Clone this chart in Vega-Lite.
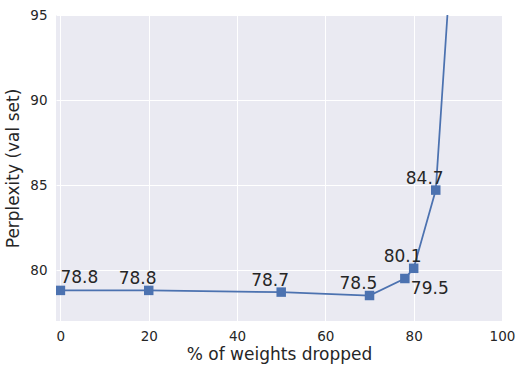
{
  "$schema": "https://vega.github.io/schema/vega-lite/v6.json",
  "width": 446,
  "height": 306,
  "autosize": {"type": "none"},
  "padding": {"left": 56, "top": 15, "right": 20, "bottom": 51},
  "background": "white",
  "config": {
    "view": {"fill": "#EAEAF2", "stroke": null},
    "font": "DejaVu Sans",
    "axis": {
      "grid": true,
      "gridColor": "white",
      "gridWidth": 1,
      "domain": false,
      "ticks": false,
      "labelFontSize": 13.5,
      "labelColor": "#262626",
      "labelFlush": false,
      "labelOverlap": false,
      "titleFontSize": 17,
      "titleFontWeight": "normal",
      "titleColor": "#262626"
    }
  },
  "data": {
    "values": [
      {"x": 0, "y": 78.8},
      {"x": 20, "y": 78.8},
      {"x": 50, "y": 78.7},
      {"x": 70, "y": 78.5},
      {"x": 78, "y": 79.5},
      {"x": 80, "y": 80.1},
      {"x": 85, "y": 84.7},
      {"x": 90, "y": 104.2}
    ]
  },
  "encoding": {
    "x": {
      "field": "x",
      "type": "quantitative",
      "scale": {"domain": [-1, 100], "nice": false, "zero": false},
      "axis": {"title": "% of weights dropped", "values": [0, 20, 40, 60, 80, 100], "labelPadding": 8, "titlePadding": 4}
    },
    "y": {
      "field": "y",
      "type": "quantitative",
      "scale": {"domain": [77, 95], "nice": false, "zero": false},
      "axis": {"title": "Perplexity (val set)", "values": [80, 85, 90, 95], "labelPadding": 9, "titlePadding": 7}
    }
  },
  "layer": [
    {"mark": {"type": "line", "color": "#4C72B0", "strokeWidth": 1.75, "clip": true}},
    {"mark": {"type": "point", "shape": "square", "filled": true, "size": 90, "color": "#4C72B0", "opacity": 1, "clip": true}},
    {
      "transform": [{"filter": "datum.x > 0 && datum.x != 78 && datum.y <= 95"}],
      "mark": {"type": "text", "align": "left", "baseline": "alphabetic", "dx": -30, "dy": -6.5, "fontSize": 17, "color": "#262626"},
      "encoding": {"text": {"field": "y", "type": "quantitative", "format": ".1f"}}
    },
    {
      "transform": [{"filter": "datum.x == 0"}],
      "mark": {"type": "text", "align": "left", "baseline": "alphabetic", "dx": 0, "dy": -7, "fontSize": 17, "color": "#262626"},
      "encoding": {"text": {"field": "y", "type": "quantitative", "format": ".1f"}}
    },
    {
      "transform": [{"filter": "datum.x == 78"}],
      "mark": {"type": "text", "align": "left", "baseline": "alphabetic", "dx": 6, "dy": 15, "fontSize": 17, "color": "#262626"},
      "encoding": {"text": {"field": "y", "type": "quantitative", "format": ".1f"}}
    }
  ]
}
